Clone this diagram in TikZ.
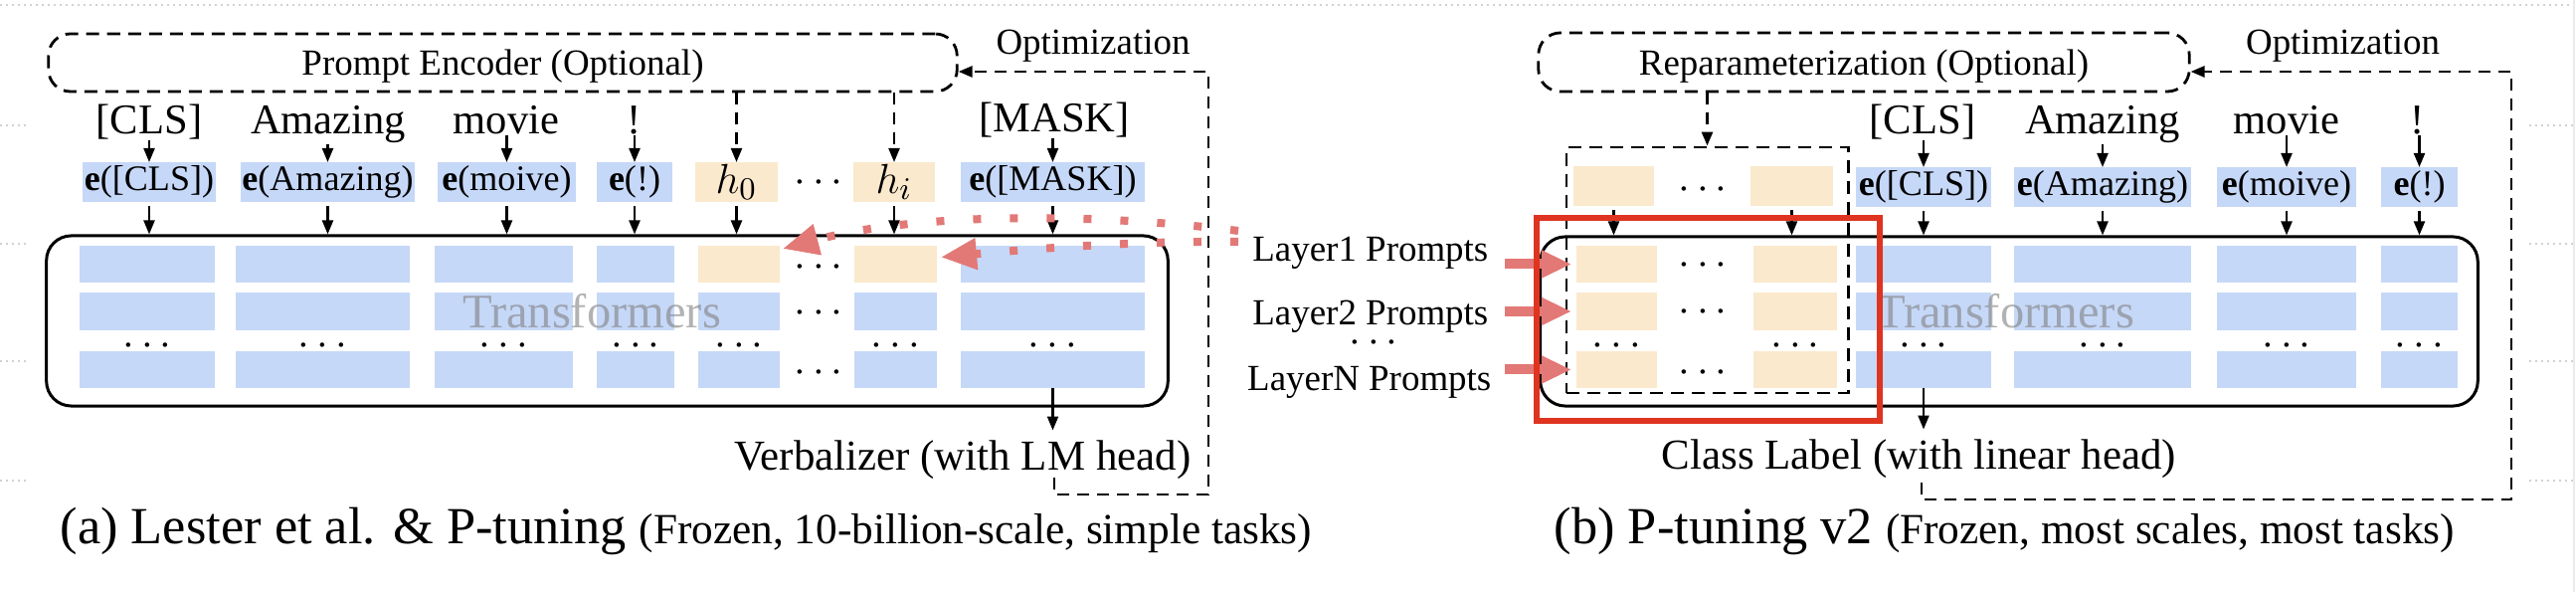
\documentclass[tikz,border=0pt]{standalone}
\usepackage{fontspec}
\setmainfont{Liberation Serif}
\usetikzlibrary{arrows.meta}
\definecolor{cellblue}{RGB}{198,216,248}
\definecolor{cellbeige}{RGB}{250,233,205}
\definecolor{salmon}{RGB}{226,121,118}
\definecolor{boxred}{RGB}{222,52,32}
\newcommand{\fs}[1]{\fontsize{#1}{#1}\selectfont}
\newcommand{\mkcell}[6]{\node[cellbox,fill=#6,minimum width={(#3-#2)*0.01cm},minimum height={(#5-#4)*0.01cm}] (#1) at ({(#2+#3)/2},{(#4+#5)/2}) {};}
\begin{document}
\begin{tikzpicture}[x=0.01cm, y=-0.01cm,
  arr/.style={line width=0.022cm, -{Triangle[length=0.14cm,width=0.11cm]}},
  darr/.style={arr, dash pattern=on 0.12cm off 0.08cm},
  dline/.style={line width=0.028cm, dash pattern=on 0.13cm off 0.08cm},
  cellbox/.style={draw=none, inner sep=0, outer sep=0},
  ebox/.style={cellbox, font=\fs{10.25}},
  word/.style={inner sep=0, anchor=base, font=\fs{12.1}},
  lab/.style={inner sep=0, anchor=base, font=\fs{10.5}},
  headlab/.style={inner sep=0.1cm, anchor=base, font=\fs{12.2}},
  tflab/.style={inner sep=0, anchor=base, font=\fs{13.8}, text=black!50, text opacity=0.6},
  dotsn/.style={inner sep=0, anchor=base, font=\fs{12.5}},
  encbox/.style={draw, dline, rounded corners=0.22cm, font=\fs{10.5}, text depth=0pt, inner sep=0},
  tfbox/.style={draw, line width=0.03cm, rounded corners=0.25cm, inner sep=0},
  reddot/.style={draw=salmon, line width=0.08cm, dash pattern=on 0.08cm off 0.29cm, -{Triangle[length=0.36cm,width=0.3cm]}},
  redarr/.style={draw=salmon, line width=0.1cm, -{Triangle[length=0.3cm,width=0.26cm]}},
  caption/.style={inner sep=0, anchor=base west, font=\fs{14.9}},
  gridart/.style={draw=black!18, line width=0.02cm, dash pattern=on 0.02cm off 0.04cm}]

\fill[white] (0,0) rectangle (2590,595);
\useasboundingbox (0,0) rectangle (2590,595);

% faint background grid artefacts
\draw[gridart] (0,5) -- (2590,5);
\foreach \yy in {126,245,363,483}{
  \draw[gridart] (0,\yy) -- (29,\yy);
  \draw[gridart] (2543,\yy) -- (2590,\yy);
}
\draw[black!8, line width=0.02cm] (2588,0) -- (2588,595);

% ================= panel (a) =================
\node[encbox, minimum width=9.13cm, minimum height=0.58cm] (pe) at (505.5,63) {Prompt Encoder (Optional)};

\node[word] (wa1) at (150,135) {[CLS]};
\node[word] (wa2) at (330,135) {Amazing};
\node[word] (wa3) at (509,135) {movie};
\node[word] (wa4) at (638,135) {!};
\node[word] (wa5) at (1060,133) {[MASK]};

\node[ebox, fill=cellblue, minimum width=1.34cm, minimum height=0.4cm] (ea1) at (150,183) {\textbf{e}([CLS])};
\node[ebox, fill=cellblue, minimum width=1.75cm, minimum height=0.4cm] (ea2) at (329.5,183) {\textbf{e}(Amazing)};
\node[ebox, fill=cellblue, minimum width=1.39cm, minimum height=0.4cm] (ea3) at (509.5,183) {\textbf{e}(moive)};
\node[ebox, fill=cellblue, minimum width=0.76cm, minimum height=0.4cm] (ea4) at (638,183) {\textbf{e}(!)};
\node[ebox, fill=cellbeige, minimum width=0.83cm, minimum height=0.4cm, font=\fs{13}] (eh0) at (740.5,183) {$h_0$};
\node[dotsn] (ead) at (823,193.5) {$\cdots$};
\node[ebox, fill=cellbeige, minimum width=0.82cm, minimum height=0.4cm, font=\fs{13}] (ehi) at (899,183) {$h_i$};
\node[ebox, fill=cellblue, minimum width=1.85cm, minimum height=0.4cm] (ea5) at (1058.5,183) {\textbf{e}([MASK])};

\node[tfbox, minimum width=11.27cm, minimum height=1.71cm] (tfa) at (610.5,322.5) {};

\foreach \xa/\xb/\ca [count=\i] in {80/216/cellblue,237/412/cellblue,437/576/cellblue,600/678/cellblue,702/784/cellbeige,859/942/cellbeige,966/1151/cellblue}{
  \mkcell{a1\i}{\xa}{\xb}{247}{284}{\ca}
  \mkcell{a2\i}{\xa}{\xb}{294}{332}{cellblue}
  \mkcell{a3\i}{\xa}{\xb}{353}{390}{cellblue}
  \node[dotsn] (ad\i) at ({(\xa+\xb)/2},357.5) {$\cdots$};
}
\node[dotsn] (adc1) at (823,278.5) {$\cdots$};
\node[dotsn] (adc2) at (823,324.5) {$\cdots$};
\node[dotsn] (adc3) at (823,384.5) {$\cdots$};
\node[tflab] (tfta) at (595,330) {Transformers};

\foreach \n in {1,...,5}{
  \draw[arr] (wa\n.south -| ea\n.north) -- (ea\n.north);
  \draw[arr, shorten <=0.04cm] (ea\n.south) -- (ea\n.south |- tfa.north);
}
\draw[darr] (pe.south -| eh0.north) -- (eh0.north);
\draw[darr] (pe.south -| ehi.north) -- (ehi.north);
\draw[arr, shorten <=0.04cm] (eh0.south) -- (eh0.south |- tfa.north);
\draw[arr, shorten <=0.04cm] (ehi.south) -- (ehi.south |- tfa.north);

\node[headlab] (verb) at (968,473) {Verbalizer (with LM head)};
\draw[arr] (a37.south) -- (a37.south |- verb.north);

\node[lab] (opta) at (1099,55) {Optimization};
\coordinate (oa1) at (1060,480);
\coordinate (oa2) at (1215,497);
\coordinate (oa3) at (1215,72);
\draw[darr, line width=0.028cm] (oa1) |- (oa2) -- (oa3) -- (oa3 -| pe.east);

% ================= panel (b) =================
\node[encbox, minimum width=6.54cm, minimum height=0.59cm] (rp) at (1874,62.5) {Reparameterization (Optional)};

\node[word] (wb1) at (1933,135) {[CLS]};
\node[word] (wb2) at (2114,135) {Amazing};
\node[word] (wb3) at (2299,135) {movie};
\node[word] (wb4) at (2431,135) {!};

\node[ebox, fill=cellblue, minimum width=1.36cm, minimum height=0.4cm] (eb1) at (1934,188) {\textbf{e}([CLS])};
\node[ebox, fill=cellblue, minimum width=1.78cm, minimum height=0.4cm] (eb2) at (2114,188) {\textbf{e}(Amazing)};
\node[ebox, fill=cellblue, minimum width=1.40cm, minimum height=0.4cm] (eb3) at (2299,188) {\textbf{e}(moive)};
\node[ebox, fill=cellblue, minimum width=0.77cm, minimum height=0.4cm] (eb4) at (2432.5,188) {\textbf{e}(!)};

\node[ebox, fill=cellbeige, minimum width=0.81cm, minimum height=0.4cm] (pt1) at (1622.5,187) {};
\node[dotsn] (ptd) at (1712,200.5) {$\cdots$};
\node[ebox, fill=cellbeige, minimum width=0.83cm, minimum height=0.4cm] (pt2) at (1801.5,187) {};

\node[tfbox, minimum width=9.42cm, minimum height=1.70cm] (tfb) at (2020,323) {};

\foreach \xa/\xb/\ca [count=\i] in {1585/1666/cellbeige,1763/1847/cellbeige,1866/2002/cellblue,2025/2203/cellblue,2229/2369/cellblue,2394/2471/cellblue}{
  \mkcell{b1\i}{\xa}{\xb}{247}{284}{\ca}
  \mkcell{b2\i}{\xa}{\xb}{294}{332}{\ca}
  \mkcell{b3\i}{\xa}{\xb}{353}{390}{\ca}
  \node[dotsn] (bd\i) at ({(\xa+\xb)/2},357.5) {$\cdots$};
}
\node[dotsn] (bdc1) at (1712,276.5) {$\cdots$};
\node[dotsn] (bdc2) at (1712,323.5) {$\cdots$};
\node[dotsn] (bdc3) at (1712,384.5) {$\cdots$};
\node[tflab] (tftb) at (2016,330) {Transformers};

\node[draw, dline, minimum width=2.83cm, minimum height=2.47cm, inner sep=0] (pb) at (1716.5,271.5) {};
\draw[darr, line width=0.028cm] (rp.south -| pb.north) -- (pb.north);

\foreach \n in {1,...,4}{
  \draw[arr] (wb\n.south -| eb\n.north) -- (eb\n.north);
  \draw[arr, shorten <=0.04cm] (eb\n.south) -- (eb\n.south |- tfb.north);
}
\draw[arr, shorten <=0.04cm] (pt1.south) -- (pt1.south |- tfb.north);
\draw[arr, shorten <=0.04cm] (pt2.south) -- (pt2.south |- tfb.north);

\node[headlab] (cls) at (1929.5,472) {Class Label (with linear head)};
\draw[arr] (b33.south) -- (b33.south |- cls.north);

\node[lab] (optb) at (2355.5,55) {Optimization};
\coordinate (ob1) at (1932,485);
\coordinate (ob2) at (2525,502);
\coordinate (ob3) at (2525,72);
\draw[darr, line width=0.028cm] (ob1) |- (ob2) -- (ob3) -- (ob3 -| rp.east);

% layer labels
\node[lab, anchor=base east] (L1) at (1497,263) {Layer1 Prompts};
\node[lab, anchor=base east] (L2) at (1497,327) {Layer2 Prompts};
\node[lab, anchor=base east] (LN) at (1500,393) {LayerN Prompts};
\node[dotsn] (Ld) at (1381,355) {$\cdots$};

\draw[redarr, shorten <=0.16cm, shorten >=0.05cm] (b11.west -| L1.east) -- (b11.west);
\draw[redarr, shorten <=0.16cm, shorten >=0.05cm] (b21.west -| L2.east) -- (b21.west);
\draw[redarr, shorten <=0.13cm, shorten >=0.05cm] (b31.west -| LN.east) -- (b31.west);

% red dotted connectors into panel (a)
\coordinate (rs1) at (1245,232);
\coordinate (rs2) at (1245,243);
\draw[reddot] (rs1) .. controls (1110,215) and (930,212) .. ([xshift=0.03cm,yshift=-0.03cm]a15.north east);
\draw[reddot] (rs2) .. controls (1150,242) and (1050,249) .. ([xshift=0.04cm,yshift=0.07cm]a16.east);

% highlight rectangle
\draw[boxred, line width=0.065cm] (1545,219) rectangle (1890,423);

% captions
\node[caption] (capa) at (60,547) {(a) Lester et al. \& P-tuning {\fs{12.3}(Frozen, 10-billion-scale, simple tasks)}};
\node[caption] (capb) at (1562,547) {(b) P-tuning v2 {\fs{12.3}(Frozen, most scales, most tasks)}};
\end{tikzpicture}
\end{document}
